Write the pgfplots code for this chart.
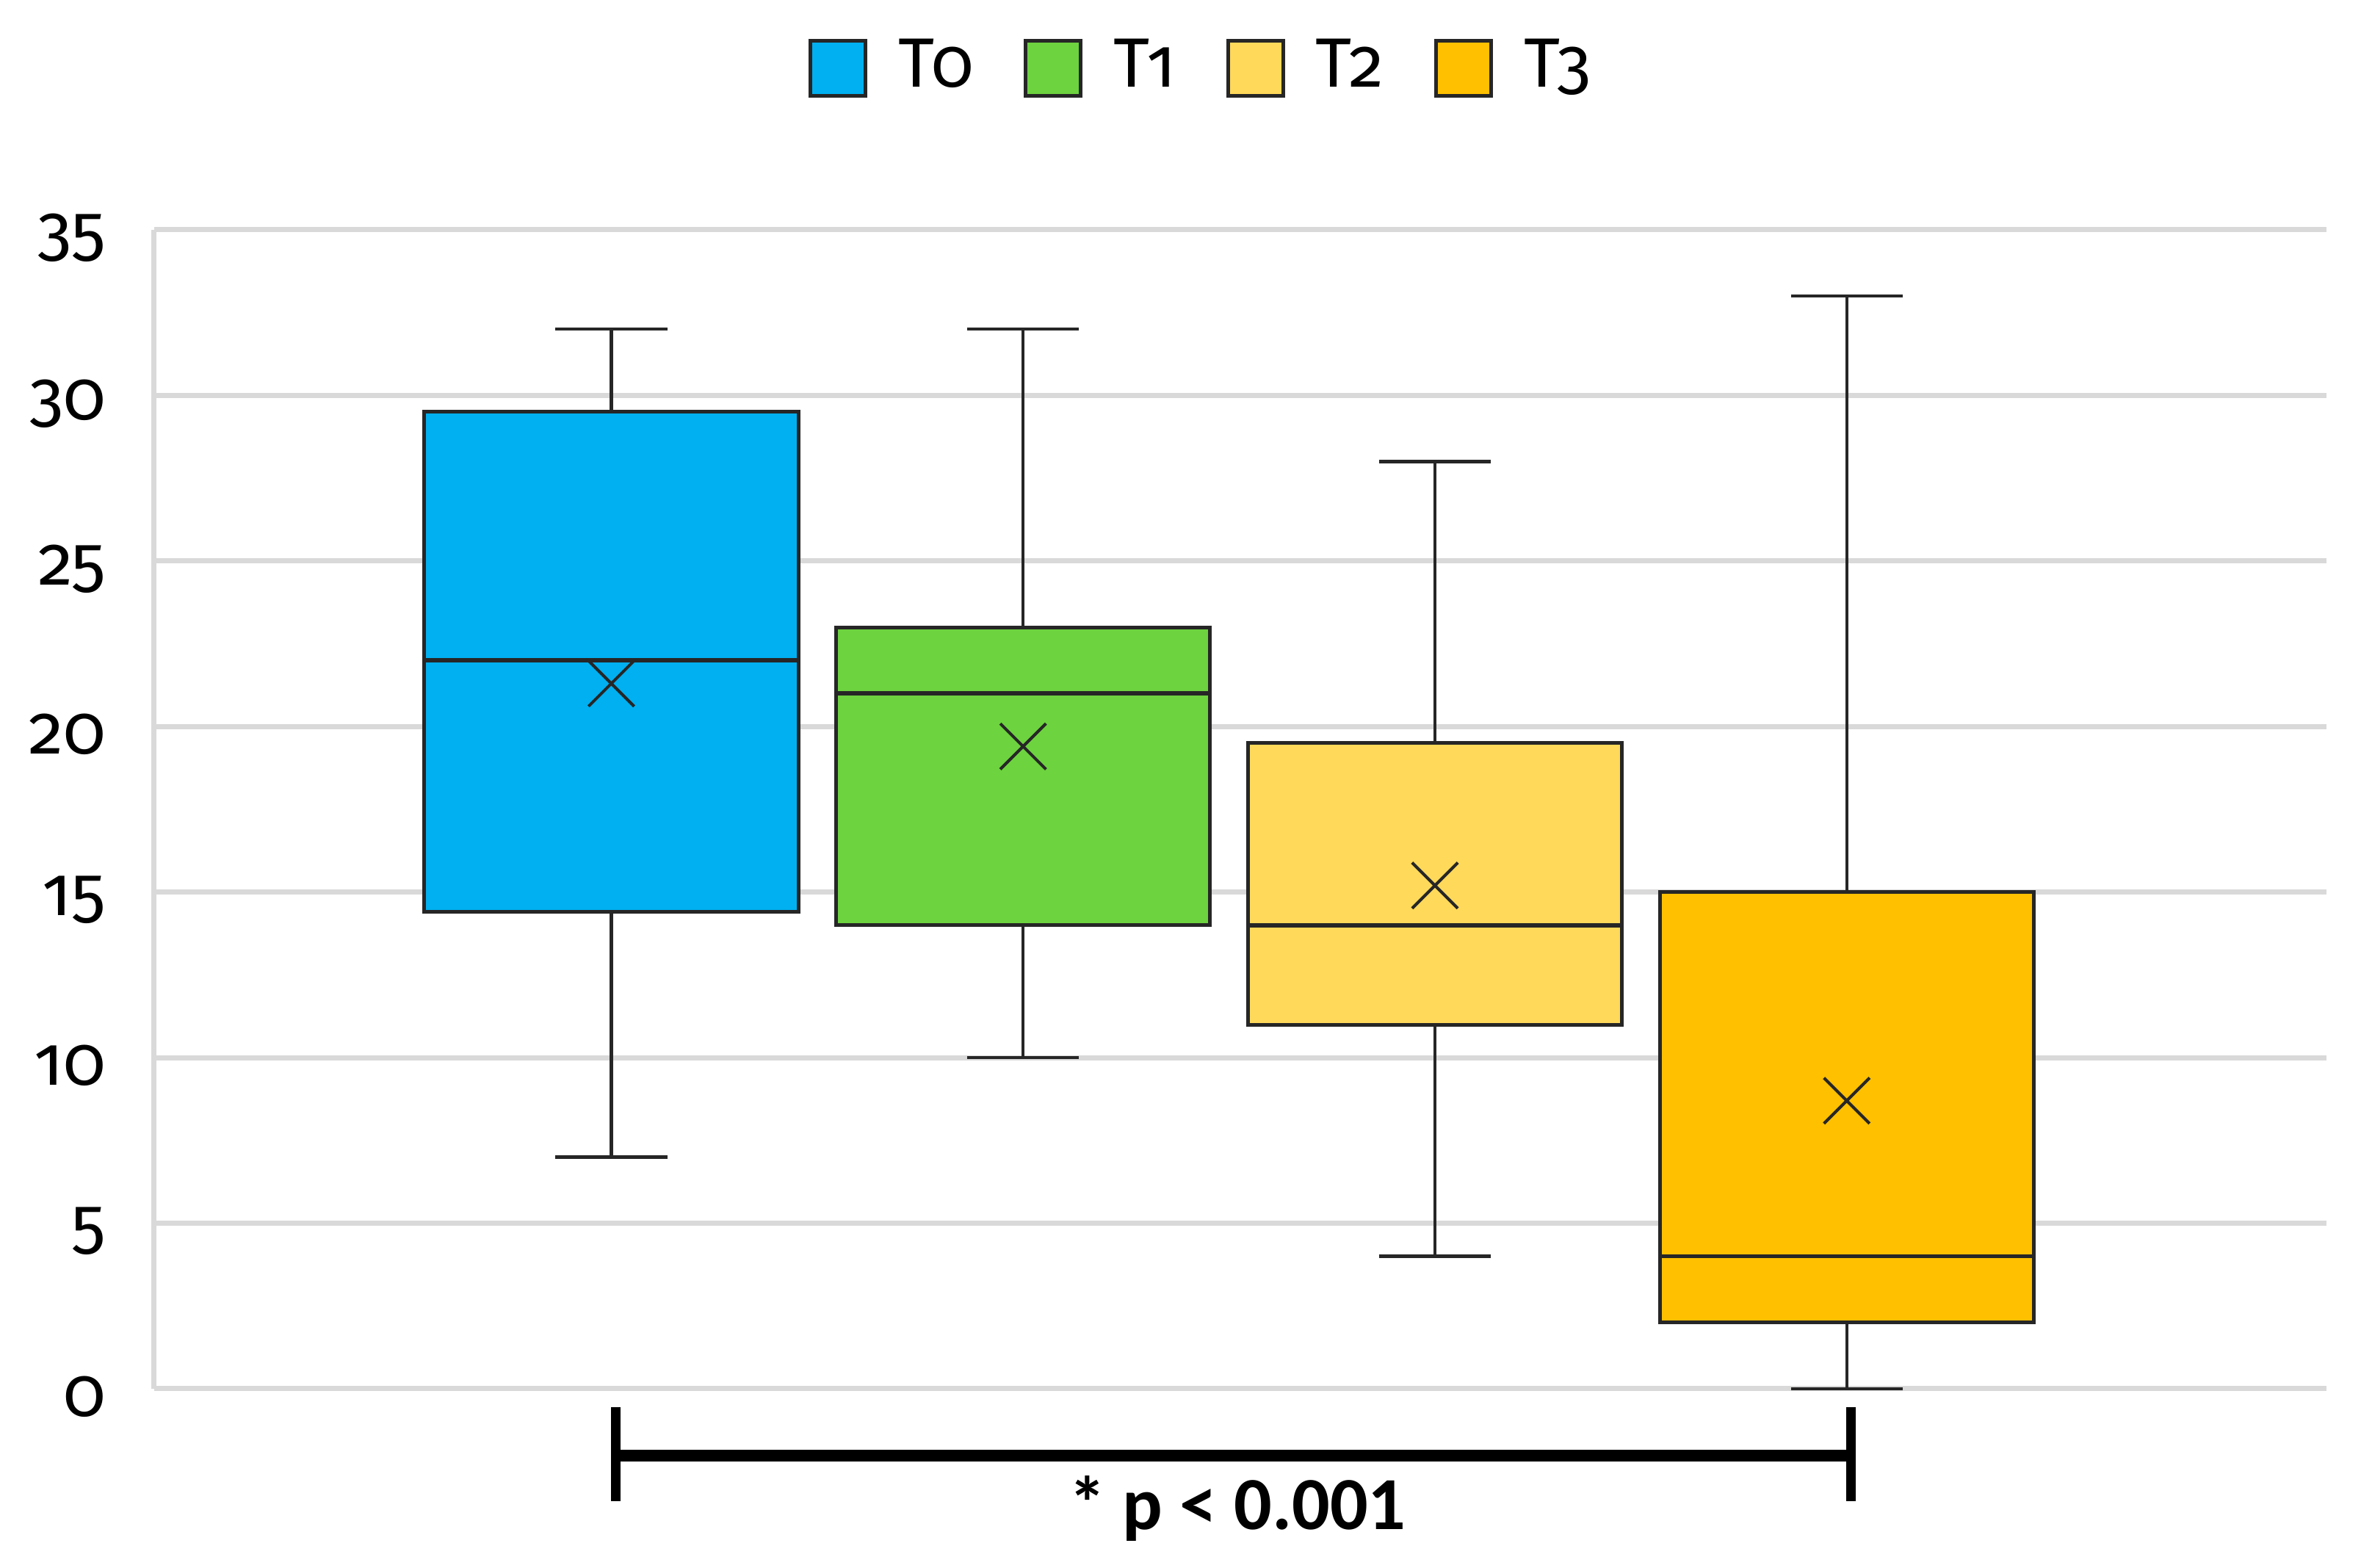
\documentclass[border=0pt]{standalone}
\usepackage{fontspec}
\setmainfont{Fira Sans}[Numbers=OldStyle]
\newfontfamily\pfont{Carlito}
\usepackage{pgfplots}
\pgfplotsset{compat=1.18}
\usepgfplotslibrary{statistics}
\definecolor{cT0}{HTML}{00B0F0}
\definecolor{cT1}{HTML}{6DD33F}
\definecolor{cT2}{HTML}{FFD95A}
\definecolor{cT3}{HTML}{FFC000}
\definecolor{gridgray}{HTML}{D9D9D9}
\definecolor{edge}{HTML}{262626}
\begin{document}
\begin{tikzpicture}
\begin{axis}[
  name=ax,
  at={(21pt,24.4pt)}, anchor=south west,
  scale only axis,
  width=295.8pt, height=157.8pt,
  xmin=-0.11, xmax=5.165,
  ymin=0, ymax=35,
  ytick={0,5,10,15,20,25,30,35},
  yticklabels={\mbox{0},\mbox{5},\mbox{10},\mbox{15},\mbox{20},\mbox{25},\mbox{30},\mbox{35}},
  axis x line=none,
  axis y line*=left,
  y axis line style={draw=gridgray, line width=0.7pt, -},
  ymajorgrids,
  major grid style={draw=gridgray, line width=0.7pt},
  major tick length=0pt,
  /pgf/number format/assume math mode=true,
  yticklabel style={font=\fontsize{9.5}{10}\selectfont, inner sep=0pt, xshift=-6.4pt, yshift=-1.1pt},
  clip=false,
  boxplot/draw direction=y,
  boxplot/box extend=0.908,
  boxplot/whisker extend=0.272,
  boxplot/every average/.style={/tikz/mark=x, /tikz/mark size=4.4pt, /tikz/mark options={draw=edge, line width=0.65pt}},
  boxplot/every whisker/.style={draw=edge, line width=0.45pt},
  boxplot/every median/.style={draw=edge, line width=0.55pt},
  boxplot/every box/.style={draw=edge, line width=0.5pt},
  legend image code/.code={\draw[#1, line width=0.5pt] (0pt,-3.75pt) rectangle (7.5pt,3.75pt);},
  legend style={at={(0.5,1)}, anchor=center, xshift=-5.5pt, yshift=22pt, draw=none, fill=none,
    font=\fontsize{9.5}{10}\selectfont, legend columns=4,
    nodes={inner xsep=0pt, inner ysep=1pt},
    /tikz/every even column/.append style={column sep=6.8pt},
    /tikz/every odd column/.append style={column sep=4.2pt}},
]
\addplot[forget plot, fill=cT0, draw=edge, boxplot prepared={draw position=1, lower whisker=7, lower quartile=14.4, median=22, upper quartile=29.5, upper whisker=32, average=21.3}] coordinates {};
\addplot[forget plot, fill=cT1, draw=edge, boxplot prepared={draw position=2, lower whisker=10, lower quartile=14, median=21, upper quartile=23, upper whisker=32, average=19.4}] coordinates {};
\addplot[forget plot, fill=cT2, draw=edge, boxplot prepared={draw position=3, lower whisker=4, lower quartile=11, median=14, upper quartile=19.5, upper whisker=28, average=15.2}] coordinates {};
\addplot[forget plot, fill=cT3, draw=edge, boxplot prepared={draw position=4, lower whisker=0, lower quartile=2, median=4, upper quartile=15, upper whisker=33, average=8.7}] coordinates {};
\addlegendimage{fill=cT0, draw=edge}
\addlegendentry{T0}
\addlegendimage{fill=cT1, draw=edge}
\addlegendentry{T1}
\addlegendimage{fill=cT2, draw=edge}
\addlegendentry{T2}
\addlegendimage{fill=cT3, draw=edge}
\addlegendentry{T3}
\draw[line width=1.6pt] (axis cs:1.01,-2.02) -- (axis cs:4.01,-2.02);
\draw[line width=1.3pt] (axis cs:1.01,-0.55) -- (axis cs:1.01,-3.39);
\draw[line width=1.3pt] (axis cs:4.01,-0.55) -- (axis cs:4.01,-3.39);
\node[anchor=base, inner sep=0pt, font=\pfont\bfseries\fontsize{10.2}{12}\selectfont] at (axis cs:2.52,-4.24) {* p < 0.001};
\end{axis}
\path (0,0) rectangle (323pt,213.5pt);
\end{tikzpicture}
\end{document}
